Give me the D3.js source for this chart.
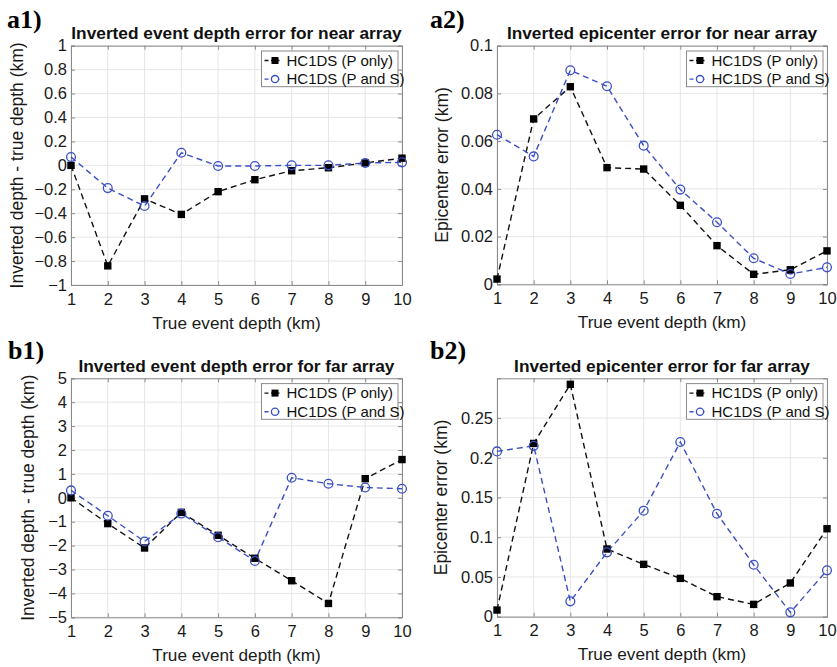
<!DOCTYPE html>
<html><head><meta charset="utf-8">
<script src="https://cdn.jsdelivr.net/npm/d3@7"></script>
<style>body{margin:0;background:#fff}svg{display:block}</style>
</head><body>
<script>
const depths = [1,2,3,4,5,6,7,8,9,10];
const a1_Ponly = [0,-0.84,-0.28,-0.41,-0.22,-0.12,-0.045,-0.02,0.02,0.06];
const a1_PS    = [0.07,-0.19,-0.34,0.105,-0.005,-0.005,0,0,0.02,0.025];
const a2_Ponly = [0.0022,0.0693,0.0828,0.0489,0.0483,0.0331,0.0162,0.0042,0.0061,0.014];
const a2_PS    = [0.0627,0.0536,0.0897,0.083,0.0581,0.0397,0.026,0.0109,0.0043,0.0071];
const b1_Ponly = [0,-1.08,-2.1,-0.61,-1.57,-2.53,-3.47,-4.42,0.8,1.6];
const b1_PS    = [0.31,-0.75,-1.83,-0.66,-1.65,-2.64,0.84,0.59,0.43,0.38];
const b2_Ponly = [0.0084,0.218,0.2924,0.0852,0.0659,0.0482,0.0252,0.0155,0.0424,0.1107];
const b2_PS    = [0.208,0.215,0.0193,0.081,0.1334,0.2198,0.1296,0.0654,0.0055,0.0583];
const xTicks = [1,2,3,4,5,6,7,8,9,10];
const a1_yTicks = [-1,-0.8,-0.6,-0.4,-0.2,0,0.2,0.4,0.6,0.8,1];
const a2_yTicks = [0,0.02,0.04,0.06,0.08,0.1];
const b1_yTicks = [-5,-4,-3,-2,-1,0,1,2,3,4,5];
const b2_yTicks = [0,0.05,0.1,0.15,0.2,0.25];
const seriesNames = ["HC1DS (P only)","HC1DS (P and S)"];

const W = 837, H = 667;
const svg = d3.select("body").append("svg").attr("width",W).attr("height",H);
const FONT = "'Liberation Sans', Arial, Helvetica, sans-serif";
const BLUE = "#3b4fc4";
const AXC = "#8a8a8a";
const fmt = v => (v<0 ? "\u2212" : "") + String(Math.abs(+v.toFixed(3)));

function panel(o){
  const g = svg.append("g");
  const x = d3.scaleLinear().domain([1,10]).range([o.left,o.right]);
  const y = d3.scaleLinear().domain(o.ydom).range([o.bottom,o.top]);
  // grid
  g.selectAll(".gx").data(xTicks).join("line")
    .attr("x1",d=>x(d)).attr("x2",d=>x(d)).attr("y1",o.top).attr("y2",o.bottom)
    .attr("stroke","#e6e6e6").attr("stroke-width",1);
  g.selectAll(".gy").data(o.yTicks).join("line")
    .attr("x1",o.left).attr("x2",o.right).attr("y1",d=>y(d)).attr("y2",d=>y(d))
    .attr("stroke","#e6e6e6").attr("stroke-width",1);
  // axes
  const ax = d3.axisBottom(x).tickValues(xTicks).tickSize(-4).tickPadding(8).tickFormat(d=>d);
  const gx = g.append("g").attr("transform",`translate(0,${o.bottom})`).call(ax);
  const axT = d3.axisTop(x).tickValues(xTicks).tickSize(-4).tickFormat("");
  const gxt = g.append("g").attr("transform",`translate(0,${o.top})`).call(axT);
  const ay = d3.axisLeft(y).tickValues(o.yTicks).tickSize(-4).tickPadding(4).tickFormat(fmt);
  const gy = g.append("g").attr("transform",`translate(${o.left},0)`).call(ay);
  const ayR = d3.axisRight(y).tickValues(o.yTicks).tickSize(-4).tickFormat("");
  const gyr = g.append("g").attr("transform",`translate(${o.right},0)`).call(ayR);
  [gx,gxt,gy,gyr].forEach(a=>{
    a.select(".domain").attr("stroke",AXC);
    a.selectAll(".tick line").attr("stroke",AXC);
    a.selectAll("text").attr("font-family",FONT).attr("font-size",16.5).attr("fill","#1a1a1a");
  });
  // lines
  const line = d3.line().x((d,i)=>x(depths[i])).y(d=>y(d));
  g.append("path").datum(o.s1).attr("d",line).attr("fill","none")
    .attr("stroke","#111").attr("stroke-width",1.4).attr("stroke-dasharray","6,4");
  g.append("path").datum(o.s2).attr("d",line).attr("fill","none")
    .attr("stroke",BLUE).attr("stroke-width",1.4).attr("stroke-dasharray","6,4");
  g.selectAll(".sq").data(o.s1).join("rect")
    .attr("x",(d,i)=>x(depths[i])-3.7).attr("y",d=>y(d)-3.7)
    .attr("width",7.4).attr("height",7.4).attr("fill","#000");
  g.selectAll(".ci").data(o.s2).join("circle")
    .attr("cx",(d,i)=>x(depths[i])).attr("cy",d=>y(d)).attr("r",4.4)
    .attr("fill","none").attr("stroke",BLUE).attr("stroke-width",1.3);
  // title
  g.append("text").attr("x",(o.left+o.right)/2).attr("y",o.top-6.5)
    .attr("text-anchor","middle").attr("font-family",FONT).attr("font-weight","bold")
    .attr("font-size",17.3).attr("fill","#111").text(o.title);
  // panel label
  g.append("text").attr("x",o.labX).attr("y",o.labY)
    .attr("font-family","'Liberation Serif','Times New Roman',serif").attr("font-weight","bold")
    .attr("font-size",26).attr("fill","#000").text(o.label);
  // axis labels
  g.append("text").attr("x",(o.left+o.right)/2).attr("y",o.bottom+43.5)
    .attr("text-anchor","middle").attr("font-family",FONT).attr("font-size",17.2)
    .attr("fill","#1a1a1a").text("True event depth (km)");
  g.append("text").attr("transform",`translate(${o.ylabX},${(o.top+o.bottom)/2}) rotate(-90)`)
    .attr("text-anchor","middle").attr("font-family",FONT).attr("font-size",17.5)
    .attr("fill","#1a1a1a").text(o.ylab);
  // legend
  const lx = o.right-140.5, ly = o.top+5.3;
  const lg = g.append("g");
  lg.append("rect").attr("x",lx).attr("y",ly).attr("width",136.5).attr("height",35.7)
    .attr("fill","#fff").attr("stroke",AXC).attr("stroke-width",1);
  seriesNames.forEach((nm,i)=>{
    const yy = ly+9.5+i*18.6;
    const col = i===0 ? "#111" : BLUE;
    lg.append("line").attr("x1",lx+3).attr("x2",lx+18).attr("y1",yy).attr("y2",yy)
      .attr("stroke",col).attr("stroke-width",1.4).attr("stroke-dasharray","4,2.5");
    if(i===0) lg.append("rect").attr("x",lx+10).attr("y",yy-3.5).attr("width",7).attr("height",7).attr("fill","#000");
    else lg.append("circle").attr("cx",lx+13.5).attr("cy",yy).attr("r",3.6).attr("fill","#fff").attr("stroke",BLUE).attr("stroke-width",1.3);
    lg.append("text").attr("x",lx+25).attr("y",yy+5.3).attr("font-family",FONT).attr("font-size",15)
      .attr("fill","#111").text(nm);
  });
}

panel({left:71,right:402,top:45.7,bottom:285,ydom:[-1,1],yTicks:a1_yTicks,s1:a1_Ponly,s2:a1_PS,
  title:"Inverted event depth error for near array",label:"a1)",labX:7,labY:28,ylabX:23,
  ylab:"Inverted depth - true depth (km)"});
panel({left:497,right:827,top:45.7,bottom:284.3,ydom:[0,0.1],yTicks:a2_yTicks,s1:a2_Ponly,s2:a2_PS,
  title:"Inverted epicenter error for near array",label:"a2)",labX:430,labY:28,ylabX:448,
  ylab:"Epicenter error (km)"});
panel({left:71,right:402,top:378.3,bottom:617.3,ydom:[-5,5],yTicks:b1_yTicks,s1:b1_Ponly,s2:b1_PS,
  title:"Inverted event depth error for far array",label:"b1)",labX:8,labY:359,ylabX:34,
  ylab:"Inverted depth - true depth (km)"});
panel({left:497,right:827,top:378.3,bottom:616.7,ydom:[0,0.3],yTicks:b2_yTicks,s1:b2_Ponly,s2:b2_PS,
  title:"Inverted epicenter error for far array",label:"b2)",labX:430,labY:359,ylabX:447,
  ylab:"Epicenter error (km)"});
</script>
</body></html>
